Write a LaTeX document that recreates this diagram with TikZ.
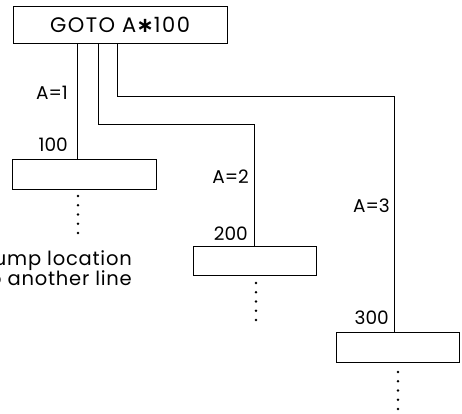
\documentclass[tikz,border=0pt]{standalone}
\usepackage{fontspec}
\setmainfont{Poppins}
\newfontfamily\symfont{DejaVu Sans}
\begin{document}
\begin{tikzpicture}[x=1pt,y=-1pt,
  stmt/.style={draw,line width=1pt,inner sep=0pt},
  stmttext/.style={font=\fontsize{21}{22}\selectfont\addfontfeatures{LetterSpace=7}},
  lbl/.style={anchor=east,inner sep=0pt,font=\fontsize{18.5}{20}\selectfont},
  note/.style={anchor=base east,inner sep=0pt,font=\fontsize{19.5}{20}\selectfont\addfontfeatures{LetterSpace=4}},
  wire/.style={line width=0.9pt},
  dot/.style={fill,circle,inner sep=0pt,minimum size=2.6pt}]
\useasboundingbox (0,0) rectangle (462,413);
\clip (0,0) rectangle (462,413);
% statement boxes
\node[stmt,stmttext,minimum width=214pt,minimum height=37pt] (top) at (120,24.5) {GOTO A{\symfont\bfseries ∗}100};
\node[stmt,minimum width=144pt,minimum height=30pt] (b1) at (84,174) {};
\node[stmt,minimum width=123pt,minimum height=29pt] (b2) at (254.5,260.5) {};
\node[stmt,minimum width=123pt,minimum height=30pt] (b3) at (397.5,347) {};
% attachment points
\coordinate (s1) at (77.5,43);
\coordinate (s2) at (98,43);
\coordinate (s3) at (117,43);
\coordinate (k2) at (254,124);
\coordinate (k3) at (394,96);
% connectors
\draw[wire] (s1) -- (s1 |- b1.north);
\draw[wire] (s2) |- (k2) -- (k2 |- b2.north);
\draw[wire] (s3) |- (k3) -- (k3 |- b3.north);
% labels
\node[lbl] (l1) at (68,93) {A=1};
\node[lbl] (n1) at (68,145) {100};
\node[lbl] (l2) at (249,177) {A=2};
\node[lbl] (n2) at (248,234) {200};
\node[lbl] (l3) at (390,206) {A=3};
\node[lbl] (n3) at (389,318) {300};
% continuation dots
\foreach \i in {0,...,4} {
  \node[dot] (da\i) at (78,196+9.25*\i) {};
  \node[dot] (db\i) at (256,283+9.25*\i) {};
  \node[dot] (dc\i) at (398,372+9.25*\i) {};
}
% note (cut off at the left edge, as in the original)
\node[note] (t1) at (132,265) {Jump location};
\node[note] (t2) at (132,285) {to another line};
\end{tikzpicture}
\end{document}
